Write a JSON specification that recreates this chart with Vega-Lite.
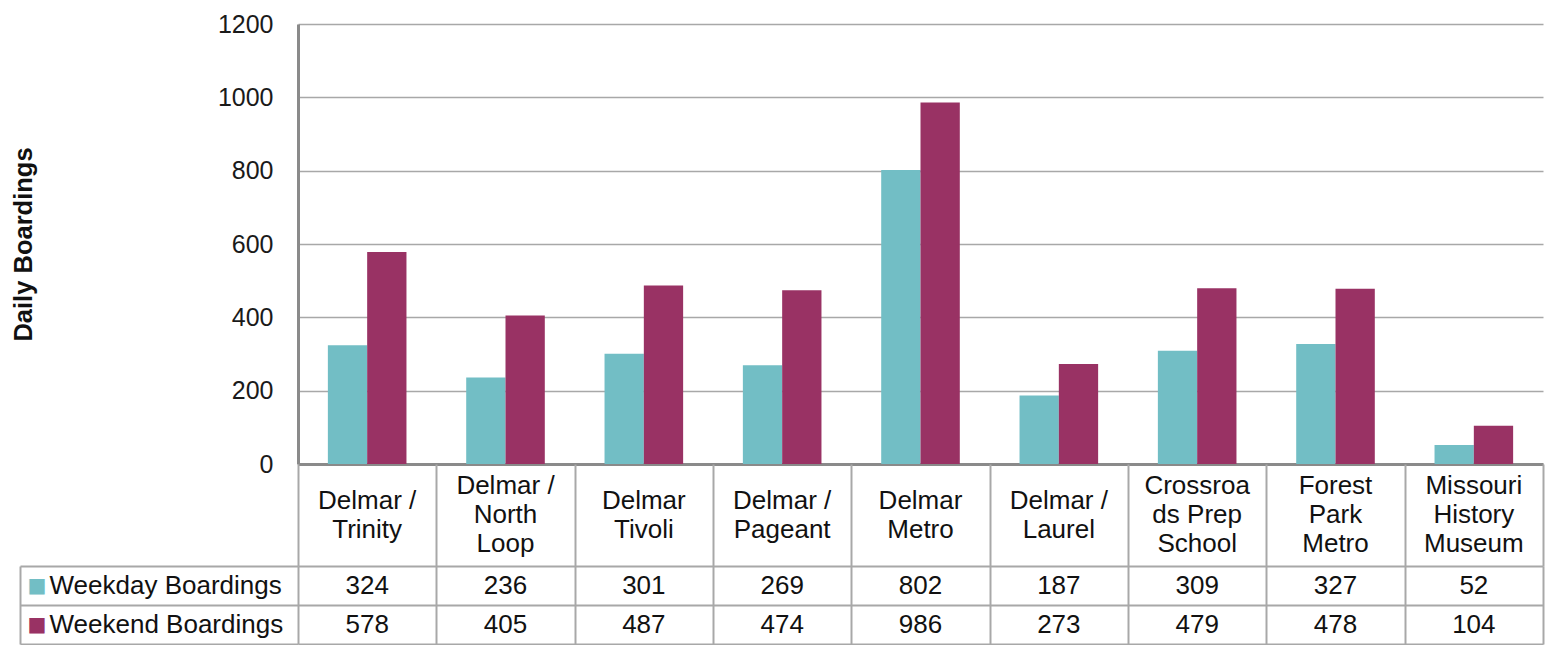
{
  "$schema": "https://vega.github.io/schema/vega-lite/v6.json",
  "padding": {"left": 11, "top": 12, "right": 3, "bottom": 0},
  "bounds": "flush",
  "spacing": 0,
  "config": {
    "font": "Liberation Sans",
    "view": {"stroke": null}
  },
  "datasets": {
    "boardings": [
      {"stop": "Delmar / Trinity", "series": "Weekday Boardings", "value": 324},
      {"stop": "Delmar / Trinity", "series": "Weekend Boardings", "value": 578},
      {"stop": "Delmar / North Loop", "series": "Weekday Boardings", "value": 236},
      {"stop": "Delmar / North Loop", "series": "Weekend Boardings", "value": 405},
      {"stop": "Delmar Tivoli", "series": "Weekday Boardings", "value": 301},
      {"stop": "Delmar Tivoli", "series": "Weekend Boardings", "value": 487},
      {"stop": "Delmar / Pageant", "series": "Weekday Boardings", "value": 269},
      {"stop": "Delmar / Pageant", "series": "Weekend Boardings", "value": 474},
      {"stop": "Delmar Metro", "series": "Weekday Boardings", "value": 802},
      {"stop": "Delmar Metro", "series": "Weekend Boardings", "value": 986},
      {"stop": "Delmar / Laurel", "series": "Weekday Boardings", "value": 187},
      {"stop": "Delmar / Laurel", "series": "Weekend Boardings", "value": 273},
      {"stop": "Crossroads Prep School", "series": "Weekday Boardings", "value": 309},
      {"stop": "Crossroads Prep School", "series": "Weekend Boardings", "value": 479},
      {"stop": "Forest Park Metro", "series": "Weekday Boardings", "value": 327},
      {"stop": "Forest Park Metro", "series": "Weekend Boardings", "value": 478},
      {"stop": "Missouri History Museum", "series": "Weekday Boardings", "value": 52},
      {"stop": "Missouri History Museum", "series": "Weekend Boardings", "value": 104}
    ],
    "stops": [
      {"stop": "Delmar / Trinity", "label": ["Delmar /", "Trinity"]},
      {"stop": "Delmar / North Loop", "label": ["Delmar /", "North", "Loop"]},
      {"stop": "Delmar Tivoli", "label": ["Delmar", "Tivoli"]},
      {"stop": "Delmar / Pageant", "label": ["Delmar /", "Pageant"]},
      {"stop": "Delmar Metro", "label": ["Delmar", "Metro"]},
      {"stop": "Delmar / Laurel", "label": ["Delmar /", "Laurel"]},
      {"stop": "Crossroads Prep School", "label": ["Crossroa", "ds Prep", "School"]},
      {"stop": "Forest Park Metro", "label": ["Forest", "Park", "Metro"]},
      {"stop": "Missouri History Museum", "label": ["Missouri", "History", "Museum"]}
    ]
  },
  "vconcat": [
    {
      "width": 1245,
      "height": 440,
      "data": {"name": "boardings"},
      "mark": {"type": "bar"},
      "encoding": {
        "x": {
          "field": "stop", "type": "nominal",
          "scale": {"domain": ["Delmar / Trinity", "Delmar / North Loop", "Delmar Tivoli", "Delmar / Pageant", "Delmar Metro", "Delmar / Laurel", "Crossroads Prep School", "Forest Park Metro", "Missouri History Museum"], "paddingInner": 0, "paddingOuter": 0},
          "axis": {"orient": "bottom", "labels": false, "ticks": false, "title": null, "grid": false, "domain": true, "domainColor": "#8a8a8a", "domainWidth": 3}
        },
        "xOffset": {
          "field": "series", "type": "nominal",
          "scale": {"domain": ["Weekday Boardings", "Weekend Boardings"], "paddingInner": 0, "paddingOuter": 0.76}
        },
        "y": {
          "field": "value", "type": "quantitative",
          "scale": {"domain": [0, 1200], "nice": false},
          "axis": {
            "values": [0, 200, 400, 600, 800, 1000, 1200],
            "format": "d",
            "title": "Daily Boardings",
            "titleFontSize": 25.5, "titleFontWeight": "bold", "titleColor": "#111111", "titlePadding": 181,
            "labelFontSize": 25, "labelColor": "#1a1a1a", "labelPadding": 25,
            "ticks": false,
            "domain": true, "domainColor": "#8a8a8a", "domainWidth": 3,
            "grid": true, "gridColor": "#a8a8a8", "gridWidth": 1.5
          }
        },
        "color": {
          "field": "series", "type": "nominal",
          "scale": {"domain": ["Weekday Boardings", "Weekend Boardings"], "range": ["#72bec5", "#993264"]},
          "legend": null
        }
      }
    },
    {
      "width": 1245,
      "height": 102,
      "data": {"name": "stops"},
      "encoding": {
        "x": {
          "field": "stop", "type": "nominal",
          "scale": {"domain": ["Delmar / Trinity", "Delmar / North Loop", "Delmar Tivoli", "Delmar / Pageant", "Delmar Metro", "Delmar / Laurel", "Crossroads Prep School", "Forest Park Metro", "Missouri History Museum"], "paddingInner": 0, "paddingOuter": 0},
          "axis": {"orient": "top", "labels": false, "ticks": false, "domain": false, "title": null, "grid": true, "tickBand": "extent", "gridColor": "#a8a8a8", "gridWidth": 2}
        },
        "text": {"field": "label"}
      },
      "layer": [
        {
          "transform": [{"filter": "length(datum.label) === 2"}],
          "mark": {"type": "text", "fontSize": 26, "lineHeight": 29, "baseline": "middle", "align": "center", "dy": -14.5, "color": "#111111"}
        },
        {
          "transform": [{"filter": "length(datum.label) === 3"}],
          "mark": {"type": "text", "fontSize": 26, "lineHeight": 29, "baseline": "middle", "align": "center", "dy": -29, "color": "#111111"}
        }
      ]
    },
    {
      "width": 1245,
      "height": 78,
      "data": {"name": "boardings"},
      "layer": [
        {
          "mark": {"type": "text", "fontSize": 26, "baseline": "middle", "align": "center", "color": "#111111"},
          "encoding": {
            "x": {
              "field": "stop", "type": "nominal",
              "scale": {"domain": ["Delmar / Trinity", "Delmar / North Loop", "Delmar Tivoli", "Delmar / Pageant", "Delmar Metro", "Delmar / Laurel", "Crossroads Prep School", "Forest Park Metro", "Missouri History Museum"], "paddingInner": 0, "paddingOuter": 0},
              "axis": {"orient": "top", "labels": false, "ticks": false, "domain": false, "title": null, "grid": true, "tickBand": "extent", "gridColor": "#a8a8a8", "gridWidth": 2}
            },
            "y": {
              "field": "series", "type": "nominal",
              "scale": {"domain": ["Weekday Boardings", "Weekend Boardings"], "paddingInner": 0, "paddingOuter": 0},
              "axis": {
                "orient": "left", "title": null,
                "domain": false,
                "ticks": true, "tickBand": "extent", "tickSize": 278, "tickColor": "#a8a8a8", "tickWidth": 2,
                "grid": true, "gridColor": "#a8a8a8", "gridWidth": 2,
                "labelAlign": "left", "labelBaseline": "middle", "labelPadding": -29, "labelLimit": 400,
                "labelFontSize": 26, "labelColor": "#111111"
              }
            },
            "text": {"field": "value", "type": "quantitative"}
          }
        },
        {
          "mark": {"type": "text", "opacity": 0},
          "encoding": {
            "y": {
              "field": "series", "type": "nominal",
              "scale": {"domain": ["Weekday Boardings", "Weekend Boardings"], "paddingInner": 0, "paddingOuter": 0},
              "axis": {
                "orient": "left", "offset": 278, "title": null,
                "domain": true, "domainColor": "#a8a8a8", "domainWidth": 2,
                "ticks": false, "grid": false,
                "labelExpr": "'■'", "labelFont": "DejaVu Sans", "labelFontSize": 20,
                "labelAlign": "left", "labelBaseline": "middle", "labelPadding": -7,
                "labelColor": {"condition": {"test": "datum.value === 'Weekday Boardings'", "value": "#72bec5"}, "value": "#993264"}
              }
            },
            "text": {"value": ""}
          }
        }
      ],
      "resolve": {"axis": {"y": "independent"}}
    }
  ]
}
